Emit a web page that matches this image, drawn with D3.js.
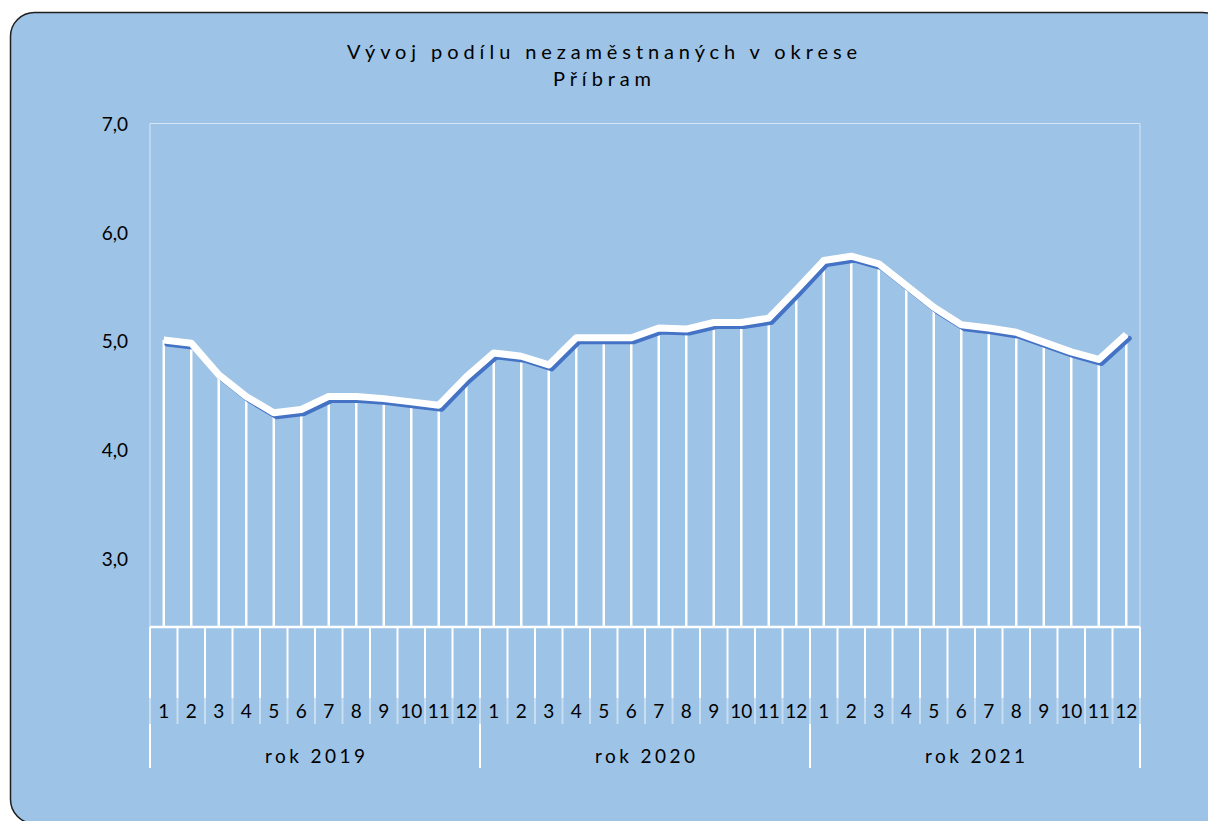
<!DOCTYPE html>
<html>
<head>
<meta charset="utf-8">
<script src="https://cdn.jsdelivr.net/npm/d3@7"></script>
<style>
    html, body { margin: 0; padding: 0; background: #fff; }
    #vis { width: 1208px; height: 821px; overflow: hidden; }
    text { font-family: Lato, 'Open Sans', sans-serif; fill: #000; }
</style>
</head>
<body>
<div id="vis"></div>
<script>
const TITLE_LINES = ['Vývoj podílu nezaměstnaných v okrese', 'Příbram']

const YEARS = ['rok 2019', 'rok 2020', 'rok 2021']
const MONTHS = ['1', '2', '3', '4', '5', '6', '7', '8', '9', '10', '11', '12']

const VALUES_2019 = [5.01, 4.98, 4.69, 4.49, 4.34, 4.37, 4.49, 4.49, 4.47, 4.44, 4.41, 4.67]
const VALUES_2020 = [4.89, 4.86, 4.78, 5.03, 5.03, 5.03, 5.12, 5.11, 5.17, 5.17, 5.21, 5.47]
const VALUES_2021 = [5.74, 5.78, 5.71, 5.51, 5.31, 5.15, 5.12, 5.08, 4.99, 4.90, 4.83, 5.06]

const Y_TICKS = [3, 4, 5, 6, 7]

const BG = '#9dc3e6'

function buildData() {
    let rows = []
    let series = [VALUES_2019, VALUES_2020, VALUES_2021]
    YEARS.forEach((year, yi) => {
        MONTHS.forEach((month, mi) => {
            rows.push({key: yi * 12 + mi, year: year, month: month, value: series[yi][mi]})
        })
    })
    return rows
}

function renderSvg() {
    let svg = d3.select('#vis')
        .append('svg')
        .attr('width', 1208)
        .attr('height', 821)

    svg.append('rect')
        .attr('x', 10.5)
        .attr('y', 12.5)
        .attr('width', 1216)
        .attr('height', 811)
        .attr('rx', 24)
        .attr('fill', BG)
        .attr('stroke', '#1f1f1f')
        .attr('stroke-width', 1.5)

    return svg
}

function renderTitle(svg) {
    let widths = [510, 98]
    let baselines = [59, 86]
    svg.append('g')
        .selectAll('text')
        .data(TITLE_LINES)
        .enter().append('text')
        .attr('x', 602)
        .attr('y', (d, i) => baselines[i])
        .attr('text-anchor', 'middle')
        .attr('textLength', (d, i) => widths[i])
        .attr('lengthAdjust', 'spacing')
        .style('font-size', '20px')
        .text(d => d)
}

function renderChart(svg) {
    let plot = {left: 150, right: 1140, top: 123.5, bottom: 627}
    let data = buildData()

    let x = d3.scaleBand()
        .domain(data.map(d => d.key))
        .range([plot.left, plot.right])

    let y = d3.scaleLinear()
        .domain([2.37, 7])
        .range([plot.bottom, plot.top])

    let fmt = v => d3.format('.1f')(v).replace('.', ',')

    // plot area border
    svg.append('path')
        .attr('d', `M${plot.left},${plot.bottom} V${plot.top} H${plot.right} V${plot.bottom}`)
        .attr('fill', 'none')
        .attr('stroke', '#d6e6f5')
        .attr('stroke-width', 1)

    // y axis
    let yAxis = svg.append('g')
        .attr('transform', `translate(${plot.left}, 0)`)
        .call(d3.axisLeft(y).tickValues(Y_TICKS).tickFormat(fmt).tickSize(0).tickPadding(22))
    yAxis.select('.domain').remove()
    yAxis.selectAll('text')
        .attr('dy', '0.36em')
        .style('font-family', 'Lato, sans-serif')
        .style('font-size', '19px')
        .attr('fill', '#000')

    let cx = d => x(d.key) + x.bandwidth() / 2

    // drop lines
    svg.append('g')
        .selectAll('line')
        .data(data)
        .enter().append('line')
        .attr('x1', cx)
        .attr('x2', cx)
        .attr('y1', d => y(d.value))
        .attr('y2', plot.bottom)
        .attr('stroke', '#fff')
        .attr('stroke-width', 2.5)

    // category axis: month ticks and year ticks
    let axis = svg.append('g')
    let edges = data.map(d => x(d.key)).concat([plot.right])
    axis.selectAll('line.month')
        .data(edges)
        .enter().append('line')
        .attr('x1', d => d)
        .attr('x2', d => d)
        .attr('y1', plot.bottom)
        .attr('y2', 724)
        .attr('stroke', '#fff')
        .attr('stroke-width', 2)

    let yearEdges = YEARS.map((yr, i) => x(i * 12)).concat([plot.right])
    axis.selectAll('line.year')
        .data(yearEdges)
        .enter().append('line')
        .attr('x1', d => d)
        .attr('x2', d => d)
        .attr('y1', plot.bottom)
        .attr('y2', 768)
        .attr('stroke', '#fff')
        .attr('stroke-width', 2)

    axis.append('line')
        .attr('x1', plot.left)
        .attr('x2', plot.right)
        .attr('y1', plot.bottom)
        .attr('y2', plot.bottom)
        .attr('stroke', '#fff')
        .attr('stroke-width', 2.5)

    // label boxes fade the ticks behind the labels
    axis.append('rect')
        .attr('x', plot.left - 2)
        .attr('y', 698)
        .attr('width', plot.right - plot.left + 4)
        .attr('height', 26)
        .attr('fill', BG)
        .attr('opacity', 0.55)

    axis.selectAll('text.month')
        .data(data)
        .enter().append('text')
        .attr('x', cx)
        .attr('y', 718)
        .attr('text-anchor', 'middle')
        .style('font-size', '19px')
        .text(d => d.month)

    axis.selectAll('text.year')
        .data(YEARS)
        .enter().append('text')
        .attr('x', (d, i) => (x(i * 12) + (i < 2 ? x((i + 1) * 12) : plot.right)) / 2)
        .attr('y', 763)
        .attr('text-anchor', 'middle')
        .attr('textLength', 100)
        .attr('lengthAdjust', 'spacing')
        .style('font-size', '19px')
        .text(d => d)

    // line: blue offset shadow and white line on top
    let line = d3.line()
        .x(cx)
        .y(d => y(d.value))

    svg.append('path')
        .datum(data)
        .attr('d', line)
        .attr('transform', 'translate(3, 4)')
        .attr('fill', 'none')
        .attr('stroke', '#4472c4')
        .attr('stroke-width', 5)
        .attr('stroke-linejoin', 'round')
        .attr('stroke-linecap', 'round')

    svg.append('path')
        .datum(data)
        .attr('d', line)
        .attr('fill', 'none')
        .attr('stroke', '#fff')
        .attr('stroke-width', 7)
        .attr('stroke-linejoin', 'round')
        .attr('stroke-linecap', 'butt')
}

let svg = renderSvg()
renderTitle(svg)
renderChart(svg)
</script>
</body>
</html>
